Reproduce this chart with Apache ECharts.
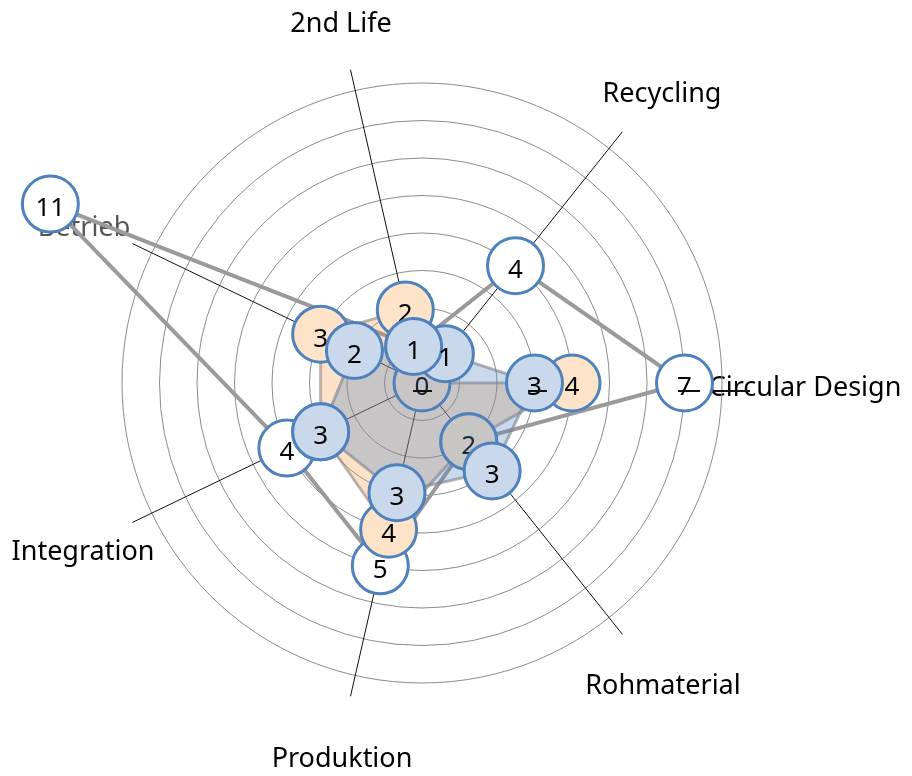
<!DOCTYPE html>
<html>
<head>
<meta charset="utf-8">
<script src="https://cdn.jsdelivr.net/npm/echarts@6/dist/echarts.min.js"></script>
<style>
  html, body { margin: 0; padding: 0; background: #fff; }
  #chart { width: 912px; height: 776px; }
</style>
</head>
<body>
<div id="chart"></div>
<script>
// axes, counter-clockwise from the right
const categories = ['Circular Design', 'Recycling', '2nd Life', 'Betrieb', 'Integration', 'Produktion', 'Rohmaterial']
const axisMax = 8

// three series
const valuesWhite = [7, 4, 1, 11, 4, 5, 2]
const valuesOrange = [4, 0, 2, 3, 3, 4, 2]
const valuesBlue = [3, 1, 1, 2, 3, 3, 3]

// label centres for the axis names
const namePos = [[805, 388], [662, 94], [341, 24], [84, 228], [83, 552], [342, 759], [663, 686]]
const nameColor = ['#000', '#000', '#000', '#555', '#000', '#000', '#000']
// the odd strike-through marks on the Circular Design row
const strikes = [[413, 432], [528, 547], [678, 700], [713, 750]]

const CX = 422, CY = 383
const BORDER = '#4F81BD'
const FONT = 'Noto Sans'

const chart = echarts.init(document.getElementById('chart'))

const label = { show: true, position: 'inside', fontSize: 26, color: '#000', fontFamily: FONT, offset: [0, 5] }

function mkSeries (vals, z, fill, line, area) {
  return {
    type: 'radar',
    radarIndex: 0,
    z: z,
    symbol: 'circle',
    symbolSize: 56,
    itemStyle: { color: fill, borderColor: BORDER, borderWidth: 3 },
    lineStyle: line,
    areaStyle: area ? { color: area, opacity: 1 } : undefined,
    label: label,
    emphasis: { disabled: true },
    data: [{ value: vals }]
  }
}

const option = {
  animation: false,
  backgroundColor: '#fff',
  radar: [
    {
      // rings
      center: [CX, CY],
      radius: 300,
      startAngle: 0,
      shape: 'circle',
      splitNumber: axisMax,
      indicator: categories.map(n => ({ name: n, min: 0, max: axisMax })),
      axisName: { show: false },
      axisLine: { show: false },
      splitLine: { lineStyle: { color: '#8c8c8c', width: 1 } },
      splitArea: { show: false }
    },
    {
      // spokes, a bit longer than the rings (none drawn for Circular Design)
      center: [CX, CY],
      radius: 321,
      startAngle: 0,
      shape: 'circle',
      splitNumber: axisMax,
      indicator: categories.map((n, i) => i === 0
        ? { name: n, min: 0, max: axisMax, axisLine: { show: false } }
        : { name: n, min: 0, max: axisMax }),
      axisName: { show: false },
      axisLine: { lineStyle: { color: '#111', width: 1 } },
      splitLine: { show: false },
      splitArea: { show: false }
    }
  ],
  graphic: categories.map((n, i) => ({
    type: 'text',
    x: namePos[i][0],
    y: namePos[i][1],
    z: 0,
    style: {
      text: n,
      fill: nameColor[i],
      font: '27px "' + FONT + '"',
      align: 'center',
      verticalAlign: 'middle'
    }
  })).concat(strikes.map(s => ({
    type: 'line',
    z: 100,
    shape: { x1: s[0], y1: CY + 8, x2: s[1], y2: CY + 8 },
    style: { stroke: '#111', lineWidth: 2 }
  }))),
  series: [
    mkSeries(valuesWhite, 2, '#ffffff', { color: '#9a9a9a', width: 4 }, null),
    mkSeries(valuesOrange, 3, '#FDE4C8', { color: 'rgba(130,130,130,0.6)', width: 3 }, 'rgba(247,150,70,0.28)'),
    mkSeries(valuesBlue, 4, '#C9D9EB', { color: 'rgba(130,130,130,0.6)', width: 3 }, 'rgba(79,129,189,0.3)')
  ]
}

chart.setOption(option)
</script>
</body>
</html>
